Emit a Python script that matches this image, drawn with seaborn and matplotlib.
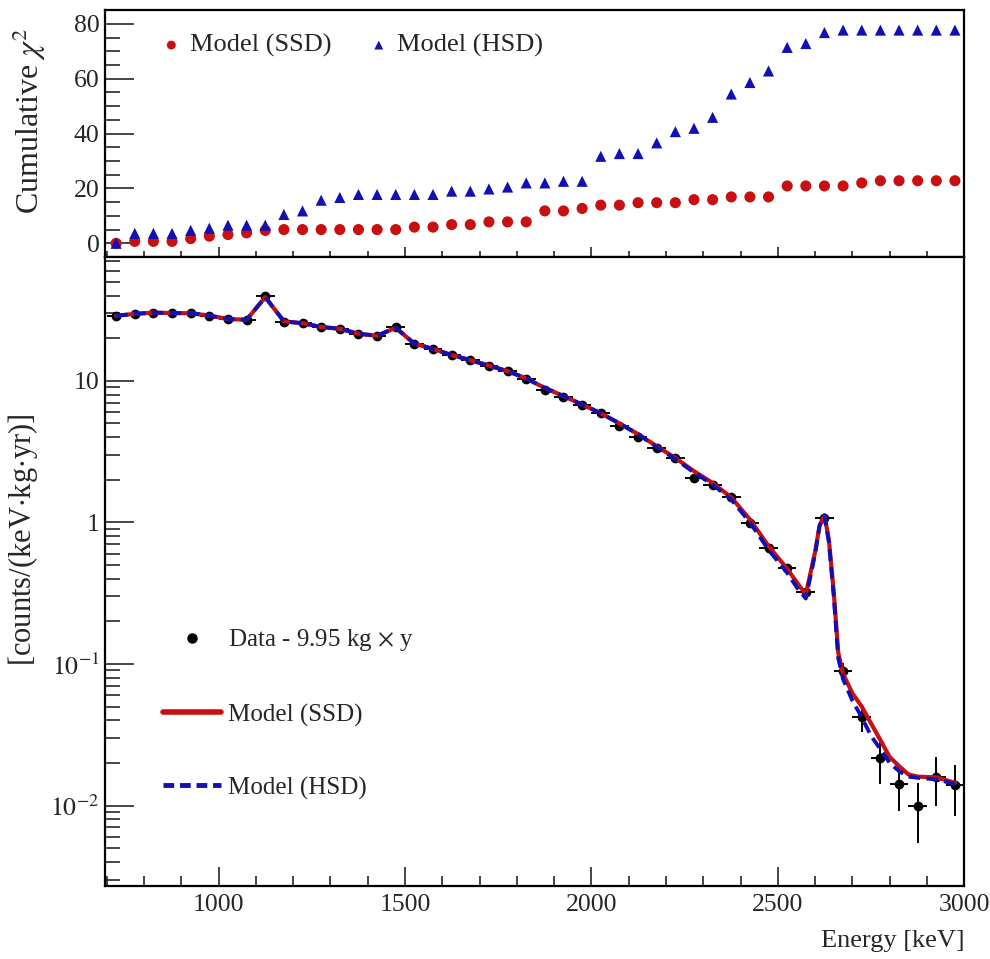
import numpy as np
import pandas as pd
import seaborn as sns
import matplotlib
matplotlib.use("Agg")
import matplotlib.pyplot as plt
from matplotlib.lines import Line2D
from matplotlib.ticker import MultipleLocator, FixedLocator, FixedFormatter, LogLocator, NullFormatter

# bin centres [keV]
energy = [725, 775, 825, 875, 925, 975, 1025, 1075, 1125, 1175, 1225, 1275, 1325, 1375, 1425, 1475,
          1525, 1575, 1625, 1675, 1725, 1775, 1825, 1875, 1925, 1975, 2025, 2075, 2125, 2175, 2225,
          2275, 2325, 2375, 2425, 2475, 2525, 2575, 2625, 2675, 2725, 2775, 2825, 2875, 2925, 2975]

# cumulative chi2
chi2_ssd = [0, 0.7, 0.7, 0.7, 1.7, 2.6,
            3.2, 3.8, 4.7, 5.0, 5.0, 5.0, 5.0, 5.0, 5.0, 5.0,
            5.9, 5.9, 6.8, 6.8, 7.8, 7.8, 7.8, 11.8, 11.8, 12.7,
            13.9, 13.9, 14.8, 14.8, 14.8, 15.9, 15.9, 16.9, 16.9, 16.9,
            20.9, 20.9, 20.9, 20.9, 22.0, 22.8, 22.8, 22.8, 22.8, 22.8]
chi2_hsd = [0, 3.6, 3.6, 3.6, 4.7, 5.5,
            6.6, 6.6, 6.6, 10.5, 11.8, 15.7, 16.7, 17.8, 17.8, 17.8,
            17.8, 17.8, 19.0, 19.0, 19.8, 20.5, 22.0, 22.0, 22.6, 22.6,
            31.7, 32.7, 32.7, 36.6, 40.7, 41.9, 45.9, 54.4, 58.6, 62.8,
            71.4, 72.8, 76.8, 77.7, 77.7, 77.7, 77.7, 77.7, 77.7, 77.7]

# measured spectrum [counts/(keV kg yr)]
rate = [28.8, 29.7, 30.3, 30.1, 30.1, 28.8,
        27.2, 26.9, 39.4, 26.2, 25.5, 23.9, 23.3, 21.4, 20.8, 23.9,
        18.2, 16.8, 15.1, 14.1, 12.8, 11.8, 10.3, 8.6, 7.7, 6.7,
        5.9, 4.8, 4.0, 3.35, 2.85, 2.05, 1.85, 1.5, 0.99, 0.66,
        0.48, 0.32, 1.07, 0.089, 0.042, 0.0217, 0.0141, 0.0099, 0.016, 0.0139]
rate_err = [0.24, 0.24, 0.25, 0.25, 0.25, 0.24,
            0.23, 0.23, 0.28, 0.23, 0.23, 0.22, 0.22, 0.21, 0.20, 0.22,
            0.19, 0.18, 0.17, 0.17, 0.16, 0.15, 0.14, 0.13, 0.12, 0.12,
            0.11, 0.10, 0.09, 0.082, 0.076, 0.064, 0.061, 0.055, 0.045, 0.036,
            0.031, 0.025, 0.046, 0.013, 0.009, 0.0075, 0.005, 0.0045, 0.006, 0.0055]

# model curves
model_energy = [725, 775, 825, 875, 925, 975, 1025, 1075, 1125, 1175, 1225, 1275, 1325, 1375, 1425, 1475,
                1525, 1575, 1625, 1675, 1725, 1775, 1825, 1875, 1925, 1975, 2025, 2075, 2125, 2175, 2225,
                2275, 2325, 2375, 2425, 2475, 2525, 2550, 2575, 2600, 2612, 2625, 2637, 2650, 2662, 2675,
                2700, 2725, 2750, 2775, 2800, 2825, 2850, 2875, 2925, 2975]
model_ssd = [28.8, 29.7, 30.3, 30.1, 30.0, 28.9, 27.3, 27.0, 39.0, 26.3, 25.5, 24.0, 23.3, 21.5, 20.8, 23.7,
             18.3, 16.8, 15.2, 14.0, 12.8, 11.7, 10.4, 8.9, 7.8, 6.8, 5.9, 5.0, 4.2, 3.45, 2.85,
             2.3, 1.9, 1.5, 1.05, 0.68, 0.47, 0.38, 0.31, 0.62, 0.95, 1.12, 0.75, 0.32, 0.12, 0.085,
             0.062, 0.050, 0.038, 0.029, 0.022, 0.019, 0.0166, 0.016, 0.0158, 0.0145]
model_hsd = [28.8, 29.7, 30.3, 30.1, 30.0, 28.9, 27.3, 27.0, 39.0, 26.3, 25.5, 24.0, 23.3, 21.5, 20.8, 23.7,
             18.3, 16.8, 15.2, 14.0, 12.8, 11.7, 10.4, 8.9, 7.8, 6.8, 5.9, 5.0, 4.2, 3.4, 2.8,
             2.25, 1.85, 1.45, 1.0, 0.64, 0.44, 0.35, 0.29, 0.6, 0.95, 1.12, 0.72, 0.3, 0.11, 0.078,
             0.055, 0.042, 0.031, 0.025, 0.020, 0.0175, 0.016, 0.0157, 0.0153, 0.0142]

red = "#c81010"
blue = "#1010b4"

sns.set_theme(style="white")
plt.rcParams['font.family'] = ['Liberation Serif', 'DejaVu Serif']
plt.rcParams['mathtext.fontset'] = 'stix'
plt.rcParams['axes.linewidth'] = 1.6
plt.rcParams['axes.edgecolor'] = 'black'

fig = plt.figure(figsize=(9.9, 9.59), dpi=100)
ax_top = fig.add_axes([0.106, 0.732, 0.868, 0.2575])
ax_bot = fig.add_axes([0.106, 0.0761, 0.868, 0.656])

# ---- top: cumulative chi2
df_chi = pd.DataFrame({'energy': energy, 'ssd': chi2_ssd, 'hsd': chi2_hsd})
sns.scatterplot(data=df_chi, x='energy', y='ssd', ax=ax_top, marker='o', s=64, color=red,
                edgecolor='none', label='Model (SSD)', zorder=3)
sns.scatterplot(data=df_chi, x='energy', y='hsd', ax=ax_top, marker='^', s=64, color=blue,
                edgecolor='none', label='Model (HSD)', zorder=3)
ax_top.set_xlim(695, 3000)
ax_top.set_ylim(-5, 85)
ax_top.set_xlabel('')
ax_top.set_ylabel(r'Cumulative $\chi^2$', fontsize=23)
ax_top.yaxis.set_label_coords(-0.066, 0.55)
ax_top.yaxis.set_major_locator(MultipleLocator(20))
ax_top.yaxis.set_minor_locator(MultipleLocator(5))
ax_top.xaxis.set_major_locator(MultipleLocator(500))
ax_top.xaxis.set_minor_locator(MultipleLocator(100))
ax_top.tick_params(axis='x', which='both', direction='in', labelbottom=False, bottom=True, top=False)
ax_top.tick_params(axis='x', which='major', length=7, width=1.2)
ax_top.tick_params(axis='x', which='minor', length=4, width=1.2)
ax_top.tick_params(axis='y', which='both', direction='in', left=True, right=False, labelsize=18.5, pad=4)
ax_top.tick_params(axis='y', which='major', length=21, width=1.2)
ax_top.tick_params(axis='y', which='minor', length=11, width=1.2)
ax_top.legend(loc='upper left', bbox_to_anchor=(0.068, 0.905), ncol=2, frameon=False, fontsize=19,
              handlelength=0.6, handletextpad=0.4, columnspacing=1.5, borderaxespad=0, borderpad=0,
              markerscale=0.8)

# ---- bottom: spectrum
ax_bot.errorbar(energy, rate, xerr=25, yerr=rate_err, fmt='o', color='black', markersize=6,
                elinewidth=1.4, capsize=0, zorder=2)
df_mod = pd.DataFrame({'energy': model_energy, 'ssd': model_ssd, 'hsd': model_hsd})
sns.lineplot(data=df_mod, x='energy', y='ssd', ax=ax_bot, color=red, linewidth=3, zorder=3)
sns.lineplot(data=df_mod, x='energy', y='hsd', ax=ax_bot, color=blue, linewidth=2.8,
             linestyle=(0, (3, 1.6)), zorder=4)
ax_bot.set_yscale('log')
ax_bot.set_xlim(695, 3000)
ax_bot.set_ylim(0.0027, 75)
ax_bot.xaxis.set_major_locator(MultipleLocator(500))
ax_bot.xaxis.set_minor_locator(MultipleLocator(100))
ax_bot.yaxis.set_major_locator(FixedLocator([0.01, 0.1, 1, 10]))
ax_bot.yaxis.set_major_formatter(FixedFormatter([r'$10^{-2}$', r'$10^{-1}$', '1', '10']))
ax_bot.yaxis.set_minor_locator(LogLocator(base=10, subs=np.arange(2, 10)))
ax_bot.yaxis.set_minor_formatter(NullFormatter())
ax_bot.tick_params(axis='x', which='both', direction='in', bottom=True, top=False, labelsize=18.5, pad=6)
ax_bot.tick_params(axis='x', which='major', length=14, width=1.2)
ax_bot.tick_params(axis='x', which='minor', length=7, width=1.2)
ax_bot.tick_params(axis='y', which='both', direction='in', left=True, right=False, labelsize=18.5, pad=4)
ax_bot.tick_params(axis='y', which='major', length=21, width=1.2)
ax_bot.tick_params(axis='y', which='minor', length=11, width=1.2)
ax_bot.set_xlabel('Energy [keV]', fontsize=19, loc='right', labelpad=10)
ax_bot.set_ylabel(r'[counts/(keV$\cdot$kg$\cdot$yr)]', fontsize=22)
ax_bot.yaxis.set_label_coords(-0.076, 0.55)

handles = [Line2D([], [], marker='o', linestyle='none', color='black', markersize=6.5),
           Line2D([], [], color=red, linewidth=4),
           Line2D([], [], color=blue, linewidth=3.5, linestyle=(0, (2.2, 1.2)))]
ax_bot.legend(handles, ['Data - 9.95 kg $\\times$ y', 'Model (SSD)', 'Model (HSD)'],
              loc='upper left', bbox_to_anchor=(0.068, 0.411), frameon=False, fontsize=18,
              handlelength=2.3, handletextpad=0.3, labelspacing=2.0, borderaxespad=0, borderpad=0)

fig.savefig('out.png', dpi=100)
